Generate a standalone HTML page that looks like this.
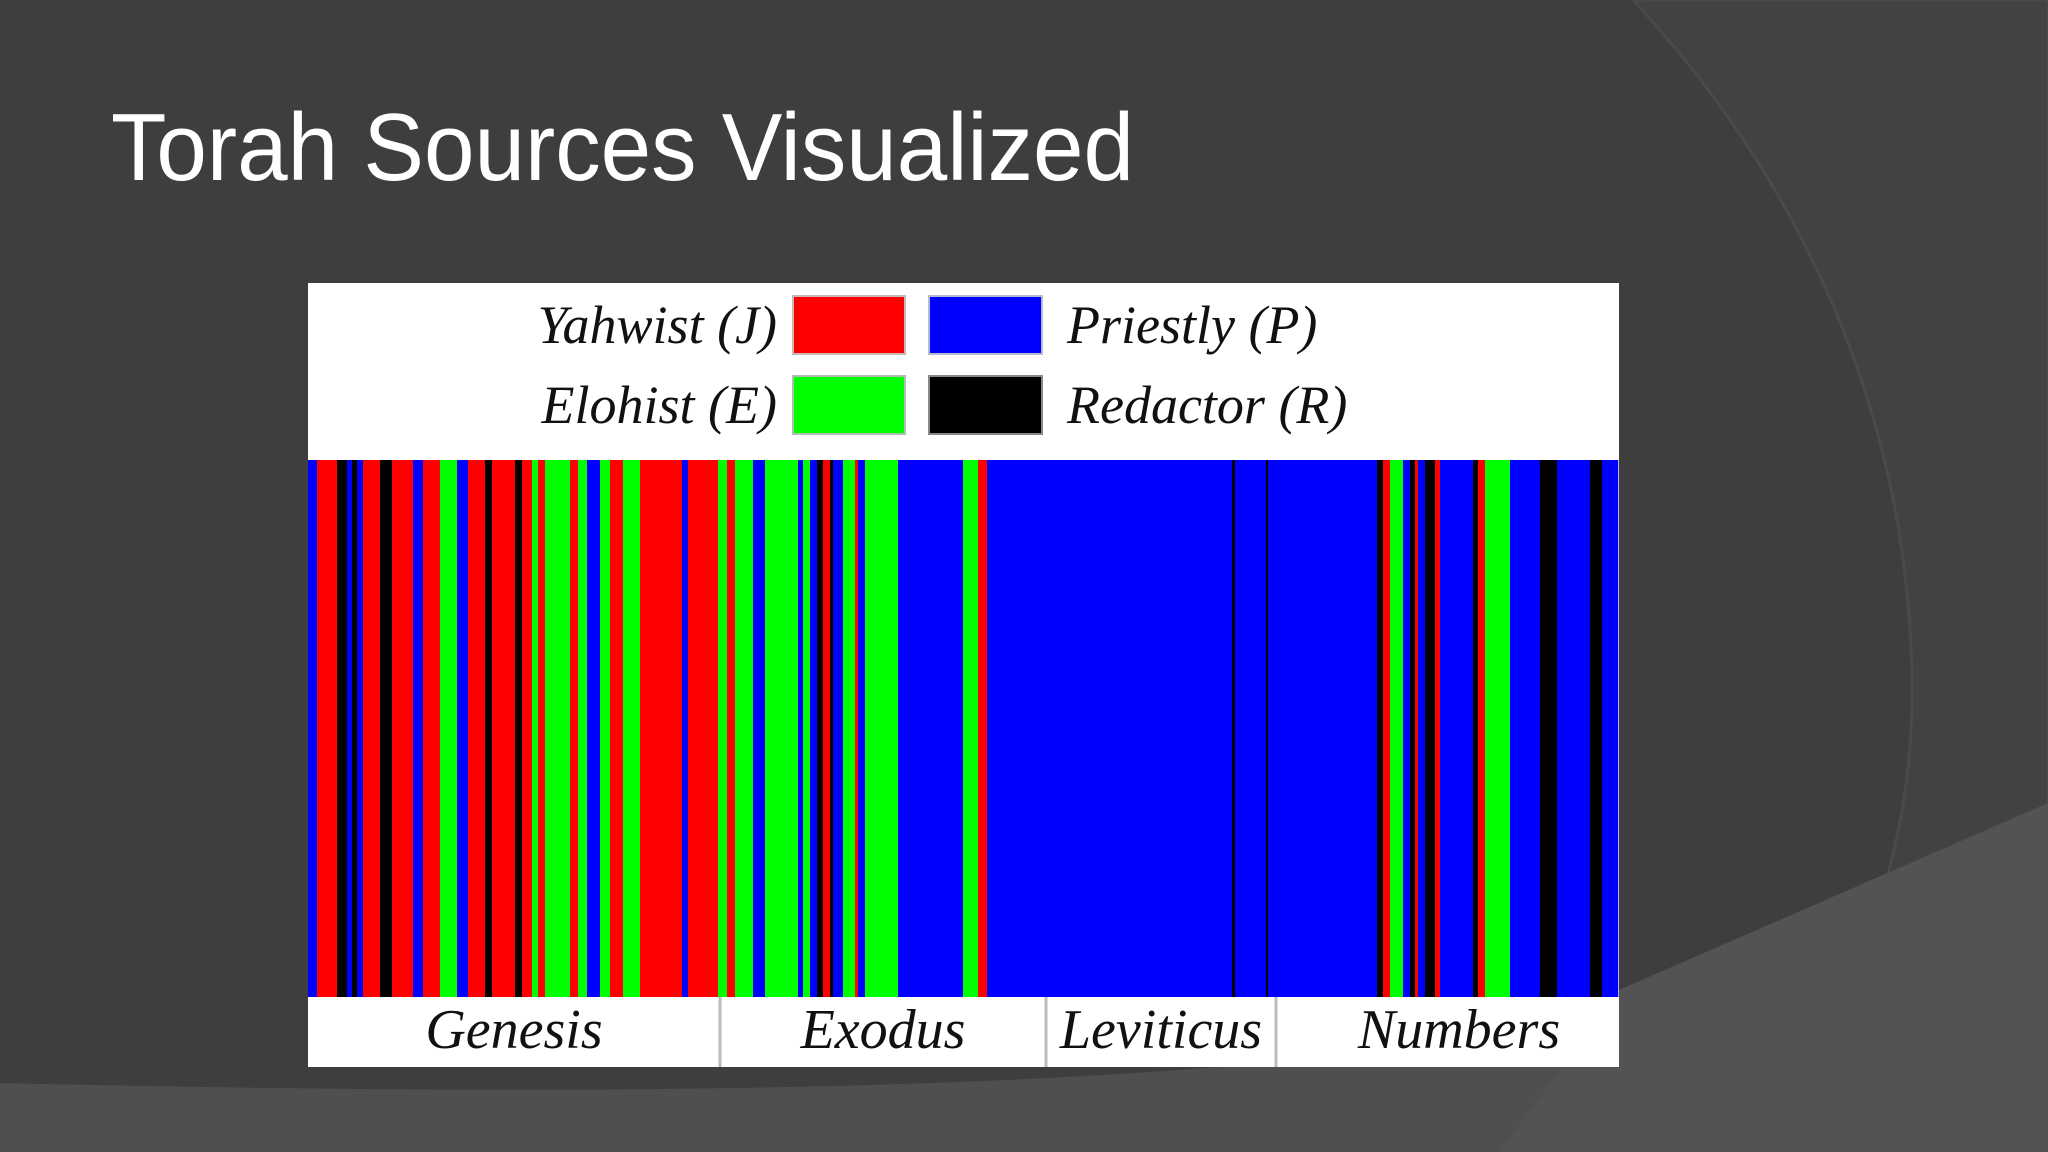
<!DOCTYPE html>
<html><head><meta charset="utf-8"><style>
html,body{margin:0;padding:0;background:#3e3e3e;}
svg{display:block;}
</style></head><body>
<svg id="slide" width="2048" height="1152" viewBox="0 0 2048 1152" xmlns="http://www.w3.org/2000/svg">
  <g>
    <rect x="0" y="0" width="2048" height="1152" fill="#3e3e3e"/>
    <path d="M1633,0 C1800,180 1915,420 1912,705 C1908,900 1830,1040 1737,1152 L2048,1152 L2048,0 Z" fill="#424242" stroke="#4a4a4a" stroke-width="3"/>
    <path d="M0,1083 C400,1092 900,1098 1300,1060 L1619,1000 L2048,803 L2048,1152 L0,1152 Z" fill="#4f4e51"/>
    <path d="M1619,990 L2048,803 L2048,1152 L1500,1152 Z" fill="#535255"/>
  </g>
  <text x="111" y="180" font-family="Liberation Sans, sans-serif" font-size="96" fill="#ffffff" textLength="1023" lengthAdjust="spacingAndGlyphs">Torah Sources Visualized</text>
  <rect x="308" y="283" width="1311" height="784" fill="#ffffff"/>
  <g font-family="Liberation Serif, serif" font-style="italic" font-size="54" fill="#111">
    <text x="777" y="343" text-anchor="end">Yahwist (J)</text>
    <rect x="793" y="296" width="112" height="58" fill="#ff0000" stroke="#c8b8b8" stroke-width="2"/>
    <rect x="929" y="296" width="113" height="58" fill="#0000ff" stroke="#b8b8d0" stroke-width="2"/>
    <text x="1067" y="343">Priestly (P)</text>
    <text x="777" y="423" text-anchor="end">Elohist (E)</text>
    <rect x="793" y="376" width="112" height="58" fill="#00ff00" stroke="#b0c0b0" stroke-width="2"/>
    <rect x="929" y="376" width="113" height="58" fill="#000000" stroke="#888" stroke-width="2"/>
    <text x="1067" y="423">Redactor (R)</text>
  </g>
  <g id="stripes"></g>
  <g id="books" font-family="Liberation Serif, serif" font-style="italic" font-size="56" fill="#111"></g>
</svg>
<script>
const segStarts  = [0,  9,  29, 39, 44, 49, 55, 72, 84, 105,115,132,149,160,177,184,207,214,224,230,237,262,270,279,292,302,315,332,374,380,410,419,427,445,457,490,495,502,509,515,522,525,535,547,550,557,590,655,670,679,924,927,958,960,1069,1075,1082,1095,1102,1107,1110,1117,1127,1132,1165,1170,1177,1202,1232,1249,1282,1294];
const segSources = ["P","J","R","P","R","P","J","R","J","P","J","E","P","J","R","J","R","J","E","J","E","J","E","P","E","J","E","J","P","J","E","J","E","P","E","P","E","P","R","J","R","P","E","J","P","E","P","E","J","P","R","P","R","P","R","J","E","P","R","J","P","R","J","P","R","J","E","P","R","P","R","P"];
const totalLength = 1310;
const bookNames = ["Genesis","Exodus","Leviticus","Numbers"];
const bookStarts = [0,412,738,968];

const colors = {J:"#ff0000",E:"#00ff00",P:"#0000ff",R:"#000000"};
const X0 = 308, X1 = 1618, Y0 = 460, Y1 = 997;
const xs = v => X0 + v / totalLength * (X1 - X0);
const NS = "http://www.w3.org/2000/svg";
const g = document.getElementById('stripes');
for (let i = 0; i < segStarts.length; i++) {
  const a = xs(segStarts[i]);
  const b = xs(i + 1 < segStarts.length ? segStarts[i + 1] : totalLength);
  const r = document.createElementNS(NS, 'rect');
  
  
  r.setAttribute('x', a);
  r.setAttribute('y', Y0);
  r.setAttribute('width', b - a + 0.3);
  r.setAttribute('height', Y1 - Y0);
  r.setAttribute('fill', colors[segSources[i]] || "#0000ff");
  g.appendChild(r);
}
const bg = document.getElementById('books');
const labelOffsets = [0, 0, 0, 12];
for (let i = 0; i < bookNames.length; i++) {
  const a = xs(bookStarts[i]);
  const b = xs(i + 1 < bookStarts.length ? bookStarts[i + 1] : totalLength);
  if (i > 0) {
    const l = document.createElementNS(NS, 'line');
    
    
    l.setAttribute('x1', a); l.setAttribute('x2', a);
    l.setAttribute('y1', 997); l.setAttribute('y2', 1067);
    l.setAttribute('stroke', '#bbbbbb'); l.setAttribute('stroke-width', '3');
    bg.appendChild(l);
  }
  const t = document.createElementNS(NS, 'text');
  
  
  t.setAttribute('x', (a + b) / 2 + labelOffsets[i]);
  t.setAttribute('y', 1048);
  t.setAttribute('text-anchor', 'middle');
  t.textContent = bookNames[i];
  bg.appendChild(t);
}
</script>
</body></html>
